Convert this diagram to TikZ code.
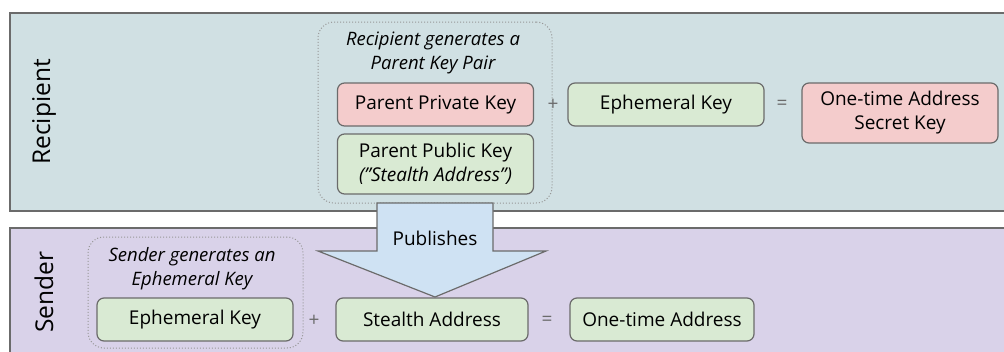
\documentclass[tikz,border=0pt]{standalone}
\usepackage{fontspec}
\setmainfont{Open Sans}
\usetikzlibrary{positioning}
\definecolor{recipbg}{HTML}{D0E0E3}
\definecolor{sendbg}{HTML}{D9D2E9}
\definecolor{privred}{HTML}{F4CCCC}
\definecolor{pubgreen}{HTML}{D9EAD3}
\definecolor{pubblue}{HTML}{CFE2F3}
\definecolor{edge}{HTML}{6B6B6B}

\begin{document}
\begin{tikzpicture}[x=1pt,y=-1pt,
  panel/.style={draw=edge,line width=1.5pt},
  keybox/.style={draw=edge,line width=1.2pt,rounded corners=7pt,fill=pubgreen,
    minimum width=196pt,minimum height=43pt,inner sep=0pt,align=center,
    font=\fontsize{19}{24}\selectfont},
  secretbox/.style={keybox,fill=privred},
  groupbox/.style={draw=edge!70,dotted,line width=1pt,rounded corners=16pt,inner sep=0pt},
  note/.style={align=center,font=\fontsize{18.5}{24}\selectfont\itshape},
  op/.style={text=edge,font=\fontsize{19}{22}\selectfont},
  side/.style={rotate=90,font=\fontsize{24.5}{28}\selectfont}]

\clip (0,0) rectangle (1004,351);

% swimlanes
\draw[panel,fill=recipbg] (10,13) rectangle (1014,211);
\draw[panel,fill=sendbg] (10,228) rectangle (1014,370);
\node[side] (recip) at (44,112) {Recipient};
\node[side] (send) at (44,292) {Sender};

\node[groupbox,minimum width=234pt,minimum height=181pt] (recipgroup) at (435,112.5) {};
\node[groupbox,minimum width=215pt,minimum height=111pt] (sendgroup) at (195.5,292.5) {};

% publishes arrow
\filldraw[fill=pubblue,draw=edge,line width=1.2pt]
  (377,203) -- (493,203) -- (493,251) -- (546,251) -- (435,297)
  -- (318,251) -- (377,251) -- cycle;
\node[font=\fontsize{19}{22}\selectfont] (pub) at (435,238) {Publishes};

% recipient side
\node[note] (recipnote) at (433,53) {Recipient generates a\\Parent Key Pair};
\node[secretbox] (parentpriv) at (435.5,104.5) {Parent Private Key};
\node[keybox,minimum height=60pt] (parentpub) at (435.5,164) {Parent Public Key\\\textit{(”Stealth Address”)}};
\node[op] (plus1) at (553,105) {+};
\node[keybox] (ephem1) at (666,104.5) {Ephemeral Key};
\node[op] (eq1) at (782,105) {=};
\node[secretbox,minimum height=60pt] (otsecret) at (900,113) {One-time Address\\Secret Key};

% sender side
\node[note] (sendnote) at (192,269) {Sender generates an\\Ephemeral Key};
\node[keybox] (ephem2) at (195,319.5) {Ephemeral Key};
\node[op] (plus2) at (314,321) {+};
\node[keybox,minimum width=192pt] (stealth) at (432,319.5) {Stealth Address};
\node[op] (eq2) at (547,321) {=};
\node[keybox,minimum width=184pt] (onetime) at (662,319.5) {One-time Address};

\end{tikzpicture}
\end{document}
